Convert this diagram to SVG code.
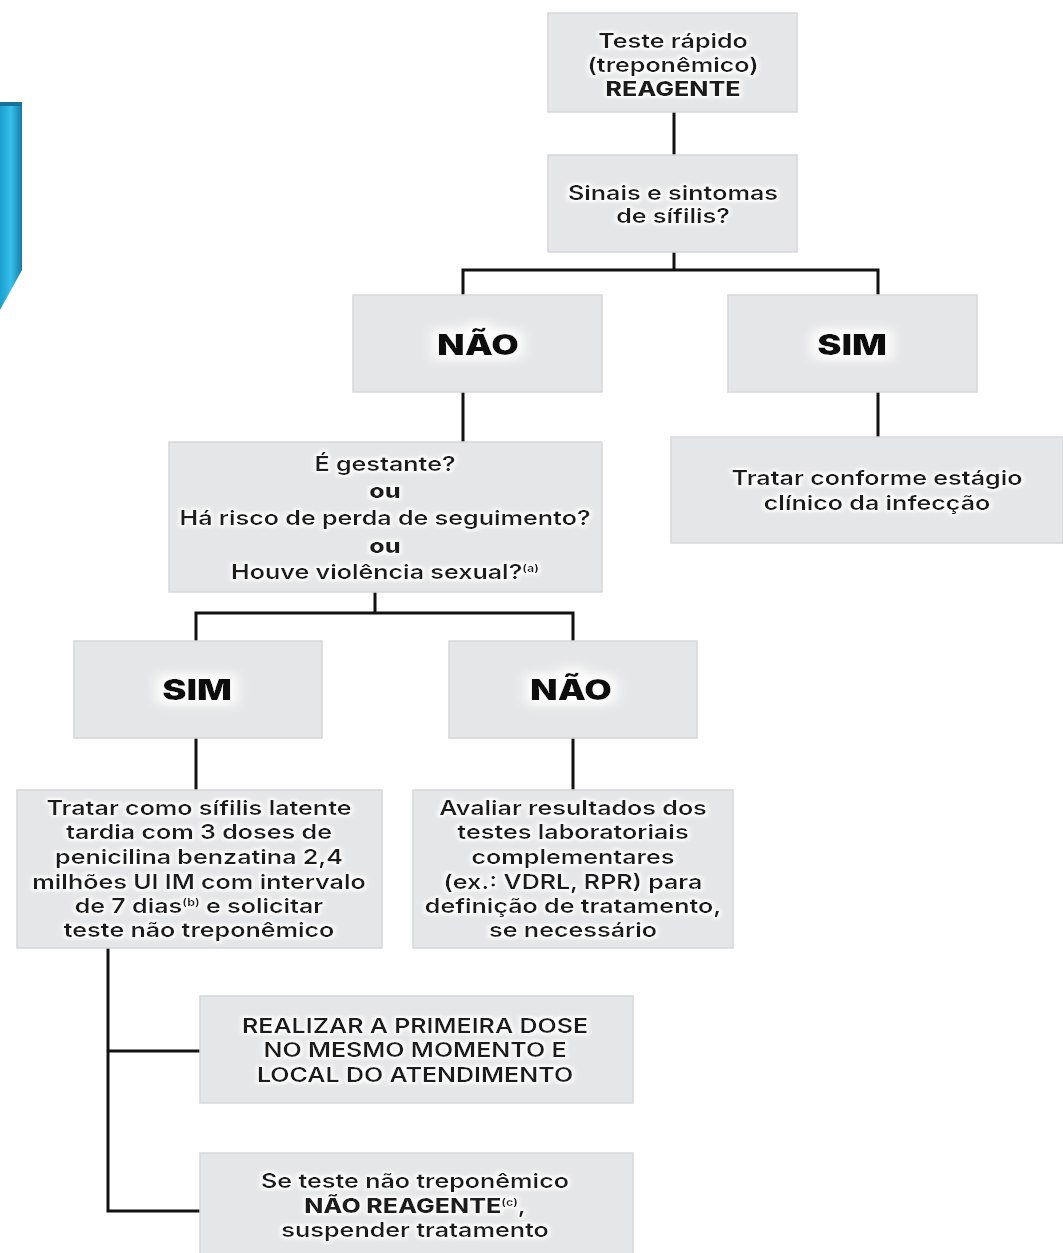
<svg xmlns="http://www.w3.org/2000/svg" width="1063" height="1253" viewBox="0 0 1063 1253">
<defs>
<linearGradient id="blue" x1="0" y1="0" x2="1" y2="0">
<stop offset="0" stop-color="#1b9fd0"/>
<stop offset="0.5" stop-color="#35c0ea"/>
<stop offset="1" stop-color="#167aa8"/>
</linearGradient>
<filter id="halo" x="-10%" y="-30%" width="120%" height="160%">
<feMorphology in="SourceAlpha" operator="dilate" radius="1.5" result="d"/>
<feGaussianBlur in="d" stdDeviation="1.5" result="b"/>
<feFlood flood-color="#ffffff"/>
<feComposite in2="b" operator="in" result="w"/>
<feMerge><feMergeNode in="w"/><feMergeNode in="SourceGraphic"/></feMerge>
</filter>
<filter id="bighalo" x="-40%" y="-60%" width="180%" height="220%">
<feMorphology in="SourceAlpha" operator="dilate" radius="5" result="d"/>
<feGaussianBlur in="d" stdDeviation="5" result="b"/>
<feFlood flood-color="#ffffff"/>
<feComposite in2="b" operator="in" result="w"/>
<feMerge><feMergeNode in="w"/><feMergeNode in="SourceGraphic"/></feMerge>
</filter>
</defs>
<style>
.box{fill:#e5e6e7;stroke:#d6d7d9;stroke-width:1.5}
.t{font-family:Inter,"Open Sans","Liberation Sans",sans-serif;font-size:20px;font-weight:600;fill:#1c1c1c;text-anchor:middle;filter:url(#halo)}
.b{font-weight:800}
.big{font-family:Inter,"Open Sans","Liberation Sans",sans-serif;font-size:28px;font-weight:900;fill:#111;text-anchor:middle;filter:url(#bighalo)}
.sup{font-size:10px;font-weight:700}
.c{fill:none;stroke:#111;stroke-width:3}
</style>
<rect width="1063" height="1253" fill="#ffffff"/>
<polygon points="0,102 22,102 22,270 0,310" fill="url(#blue)"/>
<rect x="0" y="102" width="22" height="4" fill="#15719c"/>

<g id="connectors">
<path class="c" d="M674,112 V155"/>
<path class="c" d="M674,252 V270 M463,295 V270 H878 V295"/>
<path class="c" d="M463,392 V442"/>
<path class="c" d="M878,392 V437"/>
<path class="c" d="M375,592 V613 M196,641 V613 H573 V641"/>
<path class="c" d="M196,738 V790"/>
<path class="c" d="M573,738 V790"/>
<path class="c" d="M108,948 V1211 H200 M108,1051 H200"/>
</g>

<g id="n1">
<rect class="box" x="548" y="13" width="249" height="99"/>
<g transform="translate(673,0) scale(1.25,1)">
<text class="t" x="0" y="48">Teste rápido</text>
<text class="t" x="0" y="72">(treponêmico)</text>
<text class="t b" x="0" y="96">REAGENTE</text>
</g>
</g>
<g id="n2">
<rect class="box" x="548" y="155" width="249" height="97"/>
<g transform="translate(673,0) scale(1.25,1)">
<text class="t" x="0" y="200">Sinais e sintomas</text>
<text class="t" x="0" y="223">de sífilis?</text>
</g>
</g>
<g id="n3">
<rect class="box" x="353" y="295" width="249" height="97"/>
<g transform="translate(478,0) scale(1.27,1)">
<text class="big" x="0" y="355">NÃO</text>
</g>
</g>
<g id="n4">
<rect class="box" x="728" y="295" width="249" height="97"/>
<g transform="translate(852,0) scale(1.3,1)">
<text class="big" x="0" y="355">SIM</text>
</g>
</g>
<g id="n5">
<rect class="box" x="671" y="437" width="392" height="106"/>
<g transform="translate(877,0) scale(1.25,1)">
<text class="t" x="0" y="485">Tratar conforme estágio</text>
<text class="t" x="0" y="510">clínico da infecção</text>
</g>
</g>
<g id="n6">
<rect class="box" x="169" y="442" width="433" height="150"/>
<g transform="translate(385,0) scale(1.25,1)">
<text class="t" x="0" y="471">É gestante?</text>
<text class="t b" x="0" y="498">ou</text>
<text class="t" x="0" y="525">Há risco de perda de seguimento?</text>
<text class="t b" x="0" y="553">ou</text>
<text class="t" x="0" y="579">Houve violência sexual?<tspan class="sup" dy="-7">(a)</tspan></text>
</g>
</g>
<g id="n7">
<rect class="box" x="74" y="641" width="248" height="97"/>
<g transform="translate(197,0) scale(1.3,1)">
<text class="big" x="0" y="700">SIM</text>
</g>
</g>
<g id="n8">
<rect class="box" x="449" y="641" width="248" height="97"/>
<g transform="translate(571,0) scale(1.27,1)">
<text class="big" x="0" y="700">NÃO</text>
</g>
</g>
<g id="n9">
<rect class="box" x="17" y="790" width="365" height="158"/>
<g transform="translate(199,0) scale(1.25,1)">
<text class="t" x="0" y="815">Tratar como sífilis latente</text>
<text class="t" x="0" y="839">tardia com 3 doses de</text>
<text class="t" x="0" y="864">penicilina benzatina 2,4</text>
<text class="t" x="0" y="889">milhões UI IM com intervalo</text>
<text class="t" x="0" y="913">de 7 dias<tspan class="sup" dy="-7">(b)</tspan><tspan dy="7"> e solicitar</tspan></text>
<text class="t" x="0" y="937">teste não treponêmico</text>
</g>
</g>
<g id="n10">
<rect class="box" x="413" y="790" width="320" height="158"/>
<g transform="translate(573,0) scale(1.25,1)">
<text class="t" x="0" y="815">Avaliar resultados dos</text>
<text class="t" x="0" y="839">testes laboratoriais</text>
<text class="t" x="0" y="864">complementares</text>
<text class="t" x="0" y="889">(ex.: VDRL, RPR) para</text>
<text class="t" x="0" y="913">definição de tratamento,</text>
<text class="t" x="0" y="937">se necessário</text>
</g>
</g>
<g id="n11">
<rect class="box" x="200" y="996" width="433" height="107"/>
<g transform="translate(415,0) scale(1.25,1)">
<text class="t" x="0" y="1033">REALIZAR A PRIMEIRA DOSE</text>
<text class="t" x="0" y="1057">NO MESMO MOMENTO E</text>
<text class="t" x="0" y="1082">LOCAL DO ATENDIMENTO</text>
</g>
</g>
<g id="n12">
<rect class="box" x="200" y="1153" width="433" height="105"/>
<g transform="translate(415,0) scale(1.25,1)">
<text class="t" x="0" y="1188">Se teste não treponêmico</text>
<text class="t" x="0" y="1213"><tspan class="b">NÃO REAGENTE</tspan><tspan class="sup" dy="-7">(c)</tspan><tspan dy="7">,</tspan></text>
<text class="t" x="0" y="1237">suspender tratamento</text>
</g>
</g>
</svg>
